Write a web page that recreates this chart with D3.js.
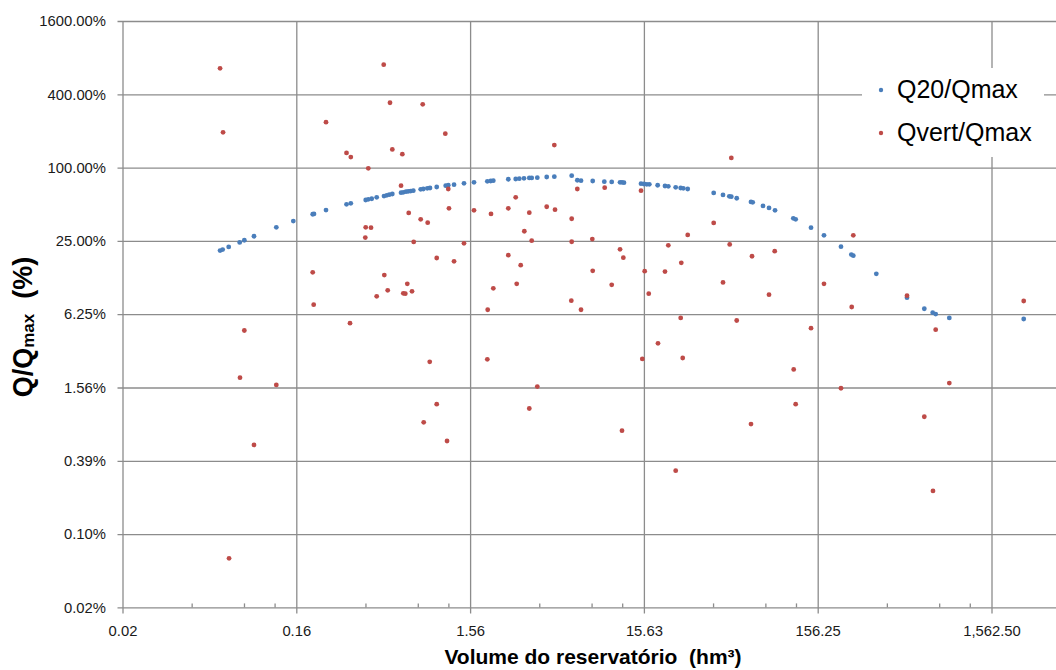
<!DOCTYPE html>
<html>
<head>
<meta charset="utf-8">
<script src="https://cdnjs.cloudflare.com/ajax/libs/d3/7.8.5/d3.min.js"></script>
<style>
  html, body { margin: 0; padding: 0; background: #fff; }
  svg { display: block; font-family: "Liberation Sans", Arial, sans-serif; }
</style>
</head>
<body>
<svg id="chart" width="1056" height="670"></svg>
<script>
// volume (hm3) and Q/Qmax (%)
var q20Vol = [
  0.0569, 0.0589, 0.0638, 0.0738, 0.0785, 0.0892, 0.1199, 0.1502, 0.1942, 0.1975,
  0.2316, 0.3039, 0.3217, 0.3919, 0.4056, 0.4244, 0.4533, 0.4994, 0.5177, 0.5358,
  0.5575, 0.6258, 0.6450, 0.6684, 0.6891, 0.7114, 0.7364, 0.8120, 0.8405, 0.8861,
  0.9184, 1.004, 1.131, 1.170, 1.263, 1.441, 1.645, 1.963, 2.053, 2.125,
  2.592, 2.859, 2.998, 3.191, 3.423, 3.534, 3.806, 4.311, 4.769, 6.003,
  6.467, 6.792, 7.930, 9.247, 10.20, 11.39, 11.69, 12.00, 15.04, 15.65,
  16.22, 16.79, 18.75, 20.66, 21.59, 23.81, 25.44, 26.34, 27.92, 39.39,
  44.56, 48.44, 49.75, 53.44, 64.56, 66.05, 75.70, 81.98, 88.77, 113.1,
  116.7, 143.0, 169.8, 212.7, 243.9, 250.4, 339.7, 510.1, 641.5, 716.9,
  745.9, 893.5, 2394
];
var q20Pct = [
  20.8, 21.2, 22.3, 24.3, 25.3, 27.3, 32.3, 36.4, 41.4, 41.6,
  44.8, 49.9, 50.9, 54.2, 54.9, 55.5, 57.0, 58.4, 59.2, 59.9,
  60.7, 62.2, 62.7, 63.4, 63.9, 64.2, 64.6, 66.3, 66.7, 67.6,
  68.0, 69.3, 71.0, 71.6, 72.4, 74.3, 75.7, 77.2, 77.6, 78.1,
  80.2, 80.6, 81.1, 81.7, 82.2, 82.2, 82.6, 83.7, 84.2, 85.8,
  78.7, 78.1, 77.6, 76.6, 76.2, 75.7, 75.7, 75.2, 73.8, 73.3,
  72.9, 72.9, 71.6, 70.6, 70.2, 68.9, 68.0, 67.6, 66.7, 61.9,
  59.6, 58.1, 57.7, 56.0, 52.2, 51.9, 48.4, 46.6, 44.6, 38.3,
  37.6, 32.1, 27.8, 22.4, 19.3, 18.9, 13.4, 8.54, 6.93, 6.43,
  6.27, 5.82, 5.71
];
var qvertVol = [
  0.0569, 0.0592, 0.2316, 0.3039, 0.3217, 0.1942, 0.1967, 0.3183, 0.0785, 0.0741,
  0.1199, 0.0892, 0.0641, 0.4975, 0.5406, 0.8341, 1.125, 4.769, 0.5575, 0.6366,
  0.4056, 0.6258, 1.170, 6.467, 9.295, 15.04, 2.859, 1.181, 1.645, 2.061,
  2.592, 3.423, 4.311, 4.813, 6.003, 0.6928, 0.8120, 0.8909, 0.3919, 0.4205,
  0.3898, 0.7403, 1.441, 3.205, 3.534, 6.003, 7.887, 11.39, 11.90, 21.59,
  27.92, 1.004, 1.263, 2.592, 3.055, 7.930, 15.79, 20.66, 25.64, 0.5014,
  0.4533, 0.5245, 0.6800, 0.6450, 0.6622, 0.7238, 2.125, 2.897, 10.20, 16.66,
  1.973, 5.972, 6.792, 25.44, 0.9152, 1.963, 1.004, 0.8450, 1.151, 3.806,
  3.423, 11.69, 15.30, 18.83, 26.13, 23.81, 49.75, 39.39, 48.70, 65.44,
  88.41, 44.56, 81.98, 53.44, 169.8, 250.4, 245.2, 510.1, 2394, 143.0,
  745.9, 113.7, 64.56, 116.7, 212.7, 641.5, 893.5, 719.7
];
var qvertPct = [
  654, 195, 236, 132, 122, 13.8, 7.48, 5.27, 4.59, 1.88,
  1.64, 0.527, 0.0618, 700, 341, 331, 190, 153, 141, 129,
  98.7, 71.0, 66.7, 66.7, 68.4, 64.6, 57.0, 46.3, 44.6, 41.6,
  46.3, 42.6, 47.7, 45.1, 38.0, 42.4, 37.6, 35.3, 32.3, 32.1,
  26.6, 24.5, 23.9, 30.0, 25.1, 24.6, 25.9, 21.3, 18.2, 23.0,
  28.0, 18.1, 17.0, 19.1, 15.8, 14.2, 14.1, 14.0, 16.5, 13.1,
  8.77, 9.82, 11.1, 9.28, 9.21, 9.64, 10.2, 11.1, 10.9, 9.21,
  6.80, 8.07, 6.80, 5.82, 2.54, 2.66, 1.14, 0.809, 0.568, 1.59,
  1.05, 0.690, 2.68, 3.60, 2.73, 0.324, 120, 35.1, 23.4, 18.7,
  20.6, 11.4, 9.04, 5.55, 11.1, 27.8, 7.16, 8.87, 8.02, 4.80,
  4.66, 2.20, 0.783, 1.14, 1.54, 0.899, 1.70, 0.221
];

var xTickVals = [0.015625, 0.15625, 1.5625, 15.625, 156.25, 1562.5];
var xTickLabels = ["0.02", "0.16", "1.56", "15.63", "156.25", "1,562.50"];
var yTickVals = [1600, 400, 100, 25, 6.25, 1.5625, 0.390625, 0.09765625, 0.0244140625];
var yTickLabels = ["1600.00%", "400.00%", "100.00%", "25.00%", "6.25%", "1.56%", "0.39%", "0.10%", "0.02%"];
var seriesNames = ["Q20/Qmax", "Qvert/Qmax"];
var seriesColors = ["#4a7ebb", "#be4b48"];

(function () {
  var W = 1056;
  var pLeft = 122.5, pTop = 21, pBottom = 607.4, dec = 173.8;
  var gridColor = "#8c8c8c";

  var svg = d3.select("#chart");

  var x = d3.scaleLog().domain([0.015625, 15625]).range([pLeft, pLeft + 6 * dec]);
  var y = d3.scaleLog().domain([0.0244140625, 1600]).range([pBottom, pTop]);

  // minor x ticks at 2.5, 5, 7.5 of each decade, pointing into the plot
  var xMinor = [];
  xTickVals.forEach(function (v) { [2.5, 5, 7.5].forEach(function (m) { xMinor.push(v * m); }); });

  // horizontal grid + y labels
  var gy = svg.append("g")
    .attr("transform", "translate(" + (pLeft - 5) + ",0)")
    .call(d3.axisLeft(y).tickValues(yTickVals).tickSize(-(W + 200)).tickPadding(11.5)
      .tickFormat(function (d, i) { return yTickLabels[i]; }));

  // vertical grid + x labels
  var gx = svg.append("g")
    .attr("transform", "translate(0," + (pBottom + 6) + ")")
    .call(d3.axisBottom(x).tickValues(xTickVals).tickSize(-(pBottom + 6 - pTop)).tickPadding(12.5)
      .tickFormat(function (d, i) { return xTickLabels[i]; }));

  var gm = svg.append("g")
    .attr("transform", "translate(0," + pBottom + ")")
    .call(d3.axisBottom(x).tickValues(xMinor).tickSize(-4).tickFormat(""));

  [gx, gy, gm].forEach(function (g) {
    g.select(".domain").remove();
    g.selectAll("line").attr("stroke", gridColor).attr("stroke-width", 1.3);
    g.attr("font-family", null).attr("font-size", null);
    g.selectAll("text").attr("fill", "#1a1a1a").attr("font-size", "14.8px");
  });

  // points
  var series = [
    {vol: q20Vol, pct: q20Pct},
    {vol: qvertVol, pct: qvertPct}
  ];
  series.forEach(function (s, k) {
    svg.append("g").selectAll("circle")
      .data(s.vol.map(function (v, i) { return [v, s.pct[i]]; }))
      .enter().append("circle")
      .attr("cx", function (d) { return x(d[0]); })
      .attr("cy", function (d) { return y(d[1]); })
      .attr("r", 2.4)
      .attr("fill", seriesColors[k]);
  });

  // legend
  var lg = svg.append("g");
  lg.append("rect").attr("x", 862).attr("y", 68).attr("width", 182).attr("height", 89).attr("fill", "#fff");
  seriesNames.forEach(function (n, i) {
    var cy = 90 + i * 43;
    lg.append("circle").attr("cx", 881).attr("cy", cy).attr("r", 2.2).attr("fill", seriesColors[i]);
    lg.append("text").attr("x", 897).attr("y", cy + 7.8).attr("font-size", "25px")
      .attr("fill", "#000").text(n);
  });

  // axis titles
  svg.append("text")
    .attr("x", 593).attr("y", 664)
    .attr("text-anchor", "middle")
    .attr("font-size", "21px").attr("font-weight", "bold")
    .style("white-space", "pre")
    .text("Volume do reservatório  (hm³)");

  var yt = svg.append("text")
    .attr("transform", "translate(32,327) rotate(-90)")
    .attr("text-anchor", "middle")
    .attr("font-size", "27px").attr("font-weight", "bold")
    .style("white-space", "pre");
  yt.append("tspan").text("Q/Q");
  yt.append("tspan").attr("font-size", "17px").attr("dy", 2).text("max");
  yt.append("tspan").attr("dy", -2).text("  (%)");
})();
</script>
</body>
</html>
